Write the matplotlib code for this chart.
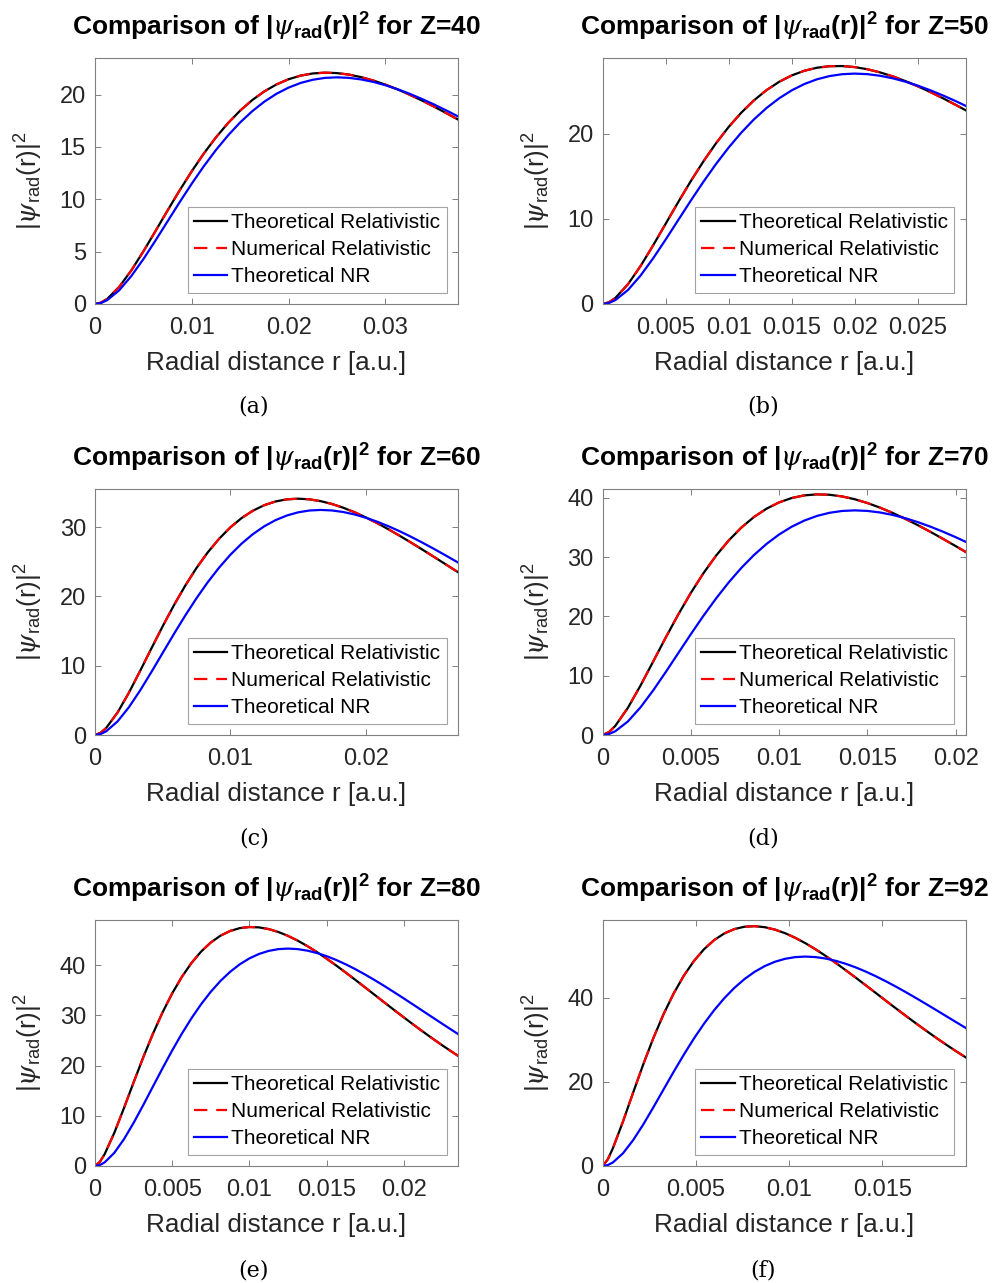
import matplotlib
matplotlib.use('Agg')
import matplotlib.pyplot as plt
from matplotlib.ticker import FuncFormatter

plt.rcParams['font.family'] = ['Liberation Sans', 'DejaVu Sans']
plt.rcParams['mathtext.fontset'] = 'custom'
plt.rcParams['mathtext.rm'] = 'Liberation Sans'
plt.rcParams['mathtext.bf'] = 'Liberation Sans:bold'
plt.rcParams['mathtext.it'] = 'DejaVu Serif:italic'

# ---------------- data ----------------
z_values = [40, 50, 60, 70, 80, 92]
captions = ['(a)', '(b)', '(c)', '(d)', '(e)', '(f)']
legend_labels = ['Theoretical Relativistic', 'Numerical Relativistic', 'Theoretical NR']

r40 = [0, 0.000625, 0.00125, 0.0025, 0.00375, 0.005, 0.00625, 0.0075, 0.00875, 0.01,
       0.01125, 0.0125, 0.01375, 0.015, 0.01625, 0.0175, 0.01875, 0.02, 0.02125, 0.0225,
       0.02375, 0.025, 0.02625, 0.0275, 0.02875, 0.03, 0.03125, 0.0325, 0.03375, 0.035,
       0.03625, 0.0375]
rel40 = [0, 0.134, 0.479, 1.631, 3.205, 5.028, 6.971, 8.940, 10.864, 12.691,
         14.385, 15.923, 17.289, 18.476, 19.485, 20.315, 20.976, 21.473, 21.819, 22.024,
         22.099, 22.058, 21.911, 21.671, 21.349, 20.956, 20.502, 19.996, 19.448, 18.865,
         18.255, 17.624]
num40 = [0, 0.134, 0.479, 1.631, 3.205, 5.028, 6.971, 8.940, 10.864, 12.691,
         14.385, 15.923, 17.289, 18.476, 19.485, 20.315, 20.976, 21.473, 21.819, 22.024,
         22.099, 22.058, 21.911, 21.671, 21.349, 20.956, 20.502, 19.996, 19.448, 18.865,
         18.255, 17.624]
nr40 = [0, 0.095, 0.362, 1.310, 2.667, 4.290, 6.065, 7.903, 9.733, 11.503,
        13.173, 14.715, 16.111, 17.349, 18.423, 19.333, 20.082, 20.674, 21.118, 21.423,
        21.598, 21.654, 21.601, 21.451, 21.215, 20.901, 20.521, 20.084, 19.597, 19.070,
        18.510, 17.923]

r50 = [0, 0.0005, 0.001, 0.002, 0.003, 0.004, 0.005, 0.006, 0.007, 0.008,
       0.009, 0.01, 0.011, 0.012, 0.013, 0.014, 0.015, 0.016, 0.017, 0.018,
       0.019, 0.02, 0.021, 0.022, 0.023, 0.024, 0.025, 0.026, 0.027, 0.028,
       0.029, 0.03]
rel50 = [0, 0.203, 0.703, 2.313, 4.453, 6.884, 9.438, 11.992, 14.458, 16.776,
         18.901, 20.810, 22.486, 23.925, 25.128, 26.101, 26.855, 27.402, 27.758, 27.937,
         27.956, 27.832, 27.578, 27.211, 26.747, 26.197, 25.577, 24.896, 24.167, 23.399,
         22.602, 21.784]
num50 = [0, 0.203, 0.703, 2.313, 4.453, 6.884, 9.438, 11.992, 14.458, 16.776,
         18.901, 20.810, 22.486, 23.925, 25.128, 26.101, 26.855, 27.402, 27.758, 27.937,
         27.956, 27.832, 27.578, 27.211, 26.747, 26.197, 25.577, 24.896, 24.167, 23.399,
         22.602, 21.784]
nr50 = [0, 0.119, 0.452, 1.637, 3.334, 5.363, 7.582, 9.879, 12.166, 14.379,
        16.466, 18.394, 20.139, 21.686, 23.029, 24.167, 25.102, 25.843, 26.398, 26.778,
        26.997, 27.067, 27.002, 26.814, 26.519, 26.127, 25.652, 25.105, 24.497, 23.838,
        23.137, 22.404]

r60 = [0, 0.000417, 0.000833, 0.001667, 0.0025, 0.003333, 0.004167, 0.005, 0.005833, 0.006667,
       0.0075, 0.008333, 0.009167, 0.01, 0.010833, 0.011667, 0.0125, 0.013333, 0.014167, 0.015,
       0.015833, 0.016667, 0.0175, 0.018333, 0.019167, 0.02, 0.020833, 0.021667, 0.0225,
       0.023333, 0.024167, 0.025, 0.025833, 0.026667, 0.0275, 0.028333]
rel60 = [0, 0.312, 1.033, 3.250, 6.096, 9.253, 12.505, 15.705, 18.750, 21.569,
         24.120, 26.377, 28.329, 29.974, 31.320, 32.379, 33.167, 33.704, 34.009, 34.104,
         34.009, 33.745, 33.334, 32.794, 32.142, 31.396, 30.572, 29.684, 28.745, 27.767,
         26.761, 25.737, 24.702, 23.664, 22.630, 21.606]
num60 = [0, 0.312, 1.033, 3.250, 6.096, 9.253, 12.505, 15.705, 18.750, 21.569,
         24.120, 26.377, 28.329, 29.974, 31.320, 32.379, 33.167, 33.704, 34.009, 34.104,
         34.009, 33.745, 33.334, 32.794, 32.142, 31.396, 30.572, 29.684, 28.745, 27.767,
         26.761, 25.737, 24.702, 23.664, 22.630, 21.606]
nr60 = [0, 0.143, 0.543, 1.965, 4.000, 6.435, 9.098, 11.854, 14.600, 17.254,
        19.759, 22.073, 24.166, 26.023, 27.635, 29.000, 30.123, 31.011, 31.677, 32.134,
        32.397, 32.480, 32.402, 32.177, 31.822, 31.352, 30.782, 30.126, 29.396, 28.605,
        27.765, 26.885, 25.975, 25.044, 24.099, 23.148]

r70 = [0, 0.000357, 0.000714, 0.001429, 0.002143, 0.002857, 0.003571, 0.004286, 0.005, 0.005714,
       0.006429, 0.007143, 0.007857, 0.008571, 0.009286, 0.01, 0.010714, 0.011429, 0.012143,
       0.012857, 0.013571, 0.014286, 0.015, 0.015714, 0.016429, 0.017143, 0.017857, 0.018571,
       0.019286, 0.02, 0.020714, 0.021429]
rel70 = [0, 0.492, 1.541, 4.591, 8.341, 12.378, 16.437, 20.349, 24.001, 27.322,
         30.271, 32.830, 34.995, 36.775, 38.185, 39.246, 39.984, 40.425, 40.597, 40.527,
         40.243, 39.771, 39.135, 38.359, 37.466, 36.474, 35.403, 34.269, 33.086, 31.870,
         30.630, 29.379]
num70 = [0, 0.492, 1.541, 4.591, 8.341, 12.378, 16.437, 20.349, 24.001, 27.322,
         30.271, 32.830, 34.995, 36.775, 38.185, 39.246, 39.984, 40.425, 40.597, 40.527,
         40.243, 39.771, 39.135, 38.359, 37.466, 36.474, 35.403, 34.269, 33.086, 31.870,
         30.630, 29.379]
nr70 = [0, 0.166, 0.633, 2.292, 4.667, 7.508, 10.614, 13.830, 17.033, 20.130,
        23.053, 25.752, 28.194, 30.360, 32.241, 33.833, 35.143, 36.180, 36.957, 37.490,
        37.796, 37.894, 37.802, 37.540, 37.126, 36.578, 35.912, 35.146, 34.295, 33.373,
        32.392, 31.366]

r80 = [0, 0.0003125, 0.000625, 0.00125, 0.001875, 0.0025, 0.003125, 0.00375, 0.004375, 0.005,
       0.005625, 0.00625, 0.006875, 0.0075, 0.008125, 0.00875, 0.009375, 0.01, 0.010625, 0.01125,
       0.011875, 0.0125, 0.013125, 0.01375, 0.014375, 0.015, 0.015625, 0.01625, 0.016875, 0.0175,
       0.018125, 0.01875, 0.019375, 0.02, 0.020625, 0.02125, 0.021875, 0.0225, 0.023125, 0.02375]
rel80 = [0, 0.807, 2.365, 6.595, 11.528, 16.641, 21.633, 26.318, 30.587, 34.377,
         37.663, 40.437, 42.714, 44.514, 45.869, 46.810, 47.377, 47.605, 47.531, 47.191,
         46.618, 45.845, 44.903, 43.818, 42.616, 41.319, 39.950, 38.525, 37.062, 35.575,
         34.077, 32.580, 31.091, 29.621, 28.175, 26.761, 25.380, 24.040, 22.742, 21.489]
num80 = [0, 0.807, 2.365, 6.595, 11.528, 16.641, 21.633, 26.318, 30.587, 34.377,
         37.663, 40.437, 42.714, 44.514, 45.869, 46.810, 47.377, 47.605, 47.531, 47.191,
         46.618, 45.845, 44.903, 43.818, 42.616, 41.319, 39.950, 38.525, 37.062, 35.575,
         34.077, 32.580, 31.091, 29.621, 28.175, 26.761, 25.380, 24.040, 22.742, 21.489]
nr80 = [0, 0.190, 0.724, 2.620, 5.334, 8.580, 12.131, 15.806, 19.466, 23.006,
        26.346, 29.430, 32.222, 34.698, 36.846, 38.666, 40.163, 41.348, 42.237, 42.846,
        43.196, 43.307, 43.203, 42.903, 42.430, 41.803, 41.043, 40.167, 39.195, 38.140,
        37.019, 35.847, 34.634, 33.392, 32.133, 30.863, 29.593, 28.330, 27.078, 25.843]

r92 = [0, 0.000272, 0.000543, 0.001087, 0.00163, 0.002174, 0.002717, 0.003261, 0.003804, 0.004348,
       0.004891, 0.005435, 0.005978, 0.006522, 0.007065, 0.007609, 0.008152, 0.008696, 0.009239,
       0.009783, 0.010326, 0.01087, 0.011413, 0.011957, 0.0125, 0.013043, 0.013587, 0.01413,
       0.014674, 0.015217, 0.015761, 0.016304, 0.016848, 0.017391, 0.017935, 0.018478,
       0.019022, 0.019565, 0.020109]
rel92 = [0, 1.572, 4.177, 10.560, 17.427, 24.154, 30.423, 36.070, 41.015, 45.235,
         48.738, 51.554, 53.726, 55.306, 56.346, 56.904, 57.033, 56.786, 56.214, 55.361,
         54.273, 52.987, 51.541, 49.965, 48.290, 46.539, 44.738, 42.904, 41.055, 39.204,
         37.368, 35.554, 33.773, 32.032, 30.336, 28.691, 27.100, 25.567, 24.094]
num92 = [0, 1.572, 4.177, 10.560, 17.427, 24.154, 30.423, 36.070, 41.015, 45.235,
         48.738, 51.554, 53.726, 55.306, 56.346, 56.904, 57.033, 56.786, 56.214, 55.361,
         54.273, 52.987, 51.541, 49.965, 48.290, 46.539, 44.738, 42.904, 41.055, 39.204,
         37.368, 35.554, 33.773, 32.032, 30.336, 28.691, 27.100, 25.567, 24.094]
nr92 = [0, 0.219, 0.832, 3.013, 6.134, 9.867, 13.950, 18.177, 22.386, 26.457,
        30.298, 33.845, 37.055, 39.902, 42.373, 44.466, 46.188, 47.551, 48.572, 49.272,
        49.675, 49.803, 49.683, 49.338, 48.794, 48.073, 47.199, 46.192, 45.074, 43.861,
        42.572, 41.224, 39.829, 38.401, 36.952, 35.493, 34.032, 32.579, 31.139]

x_limits = [0.0375, 0.0288, 0.0268, 0.02057, 0.02352, 0.01947]
y_limits = [23.5, 28.9, 35.5, 41.5, 49.0, 58.5]
x_ticks = [[0, 0.01, 0.02, 0.03],
           [0.005, 0.01, 0.015, 0.02, 0.025],
           [0, 0.01, 0.02],
           [0, 0.005, 0.01, 0.015, 0.02],
           [0, 0.005, 0.01, 0.015, 0.02],
           [0, 0.005, 0.01, 0.015]]
y_ticks = [[0, 5, 10, 15, 20],
           [0, 10, 20],
           [0, 10, 20, 30],
           [0, 10, 20, 30, 40],
           [0, 10, 20, 30, 40],
           [0, 20, 40]]

r_all = [r40, r50, r60, r70, r80, r92]
rel_all = [rel40, rel50, rel60, rel70, rel80, rel92]
num_all = [num40, num50, num60, num70, num80, num92]
nr_all = [nr40, nr50, nr60, nr70, nr80, nr92]

# ---------------- layout ----------------
W, H = 992, 1283
fig = plt.figure(figsize=(W / 100, H / 100), dpi=100)

col_left = [95, 602.7]
ax_w = 363
row_top = [58, 489, 920]
ax_h = 246
cap_x = [254, 763]
cap_y = [407, 838, 1270]

tick_col = '#262626'
frame_col = '#808080'
fmt = FuncFormatter(lambda v, p: f'{v:g}')

for i in range(6):
    row, col = divmod(i, 2)
    left = col_left[col] / W
    bottom = 1 - (row_top[row] + ax_h) / H
    ax = fig.add_axes([left, bottom, ax_w / W, ax_h / H])

    ax.plot(r_all[i], rel_all[i], color='black', lw=1.6, label=legend_labels[0])
    ln, = ax.plot(r_all[i], num_all[i], color='red', lw=1.6, label=legend_labels[1])
    ln.set_dashes([6, 4])
    ax.plot(r_all[i], nr_all[i], color='blue', lw=1.6, label=legend_labels[2])

    ax.set_xlim(0, x_limits[i])
    ax.set_ylim(0, y_limits[i])
    ax.set_xticks(x_ticks[i])
    ax.set_yticks(y_ticks[i])
    ax.xaxis.set_major_formatter(fmt)
    ax.yaxis.set_major_formatter(fmt)
    ax.tick_params(direction='in', top=True, right=True, length=4, width=0.7,
                   color=frame_col, labelcolor=tick_col, labelsize=17)
    ax.tick_params(axis='x', pad=9.5)
    ax.tick_params(axis='y', pad=6.5)
    for s in ax.spines.values():
        s.set_color(frame_col)
        s.set_linewidth(0.8)

    ax.set_xlabel('Radial distance r [a.u.]', fontsize=18.8, color=tick_col)
    ax.xaxis.set_label_coords(0.5, -0.19)
    ax.set_ylabel(r'|$\psi_{\mathrm{rad}}$(r)|$^{\mathrm{2}}$', fontsize=18.8, color=tick_col)
    ax.yaxis.set_label_coords(-0.137, 0.5)

    ax.text(0.5, 1 + 22 / ax_h,
            r'Comparison of |$\psi_{\mathbf{rad}}$(r)|$^{\mathbf{2}}$' + f' for Z={z_values[i]}',
            transform=ax.transAxes, ha='center', va='baseline', fontsize=19,
            fontweight='bold', color='black')

    leg = ax.legend(loc='lower right', fontsize=15, frameon=True, fancybox=False,
                    handlelength=1.6, handletextpad=0.2, borderpad=0.3,
                    labelspacing=0.38, borderaxespad=0.55)
    leg.get_frame().set_edgecolor('#8c8c8c')
    leg.get_frame().set_linewidth(0.8)

    fig.text(cap_x[col] / W, 1 - cap_y[row] / H, captions[i], ha='center', va='center',
             fontsize=16, family='DejaVu Serif', color='black')

fig.savefig('out.png', dpi=100)
